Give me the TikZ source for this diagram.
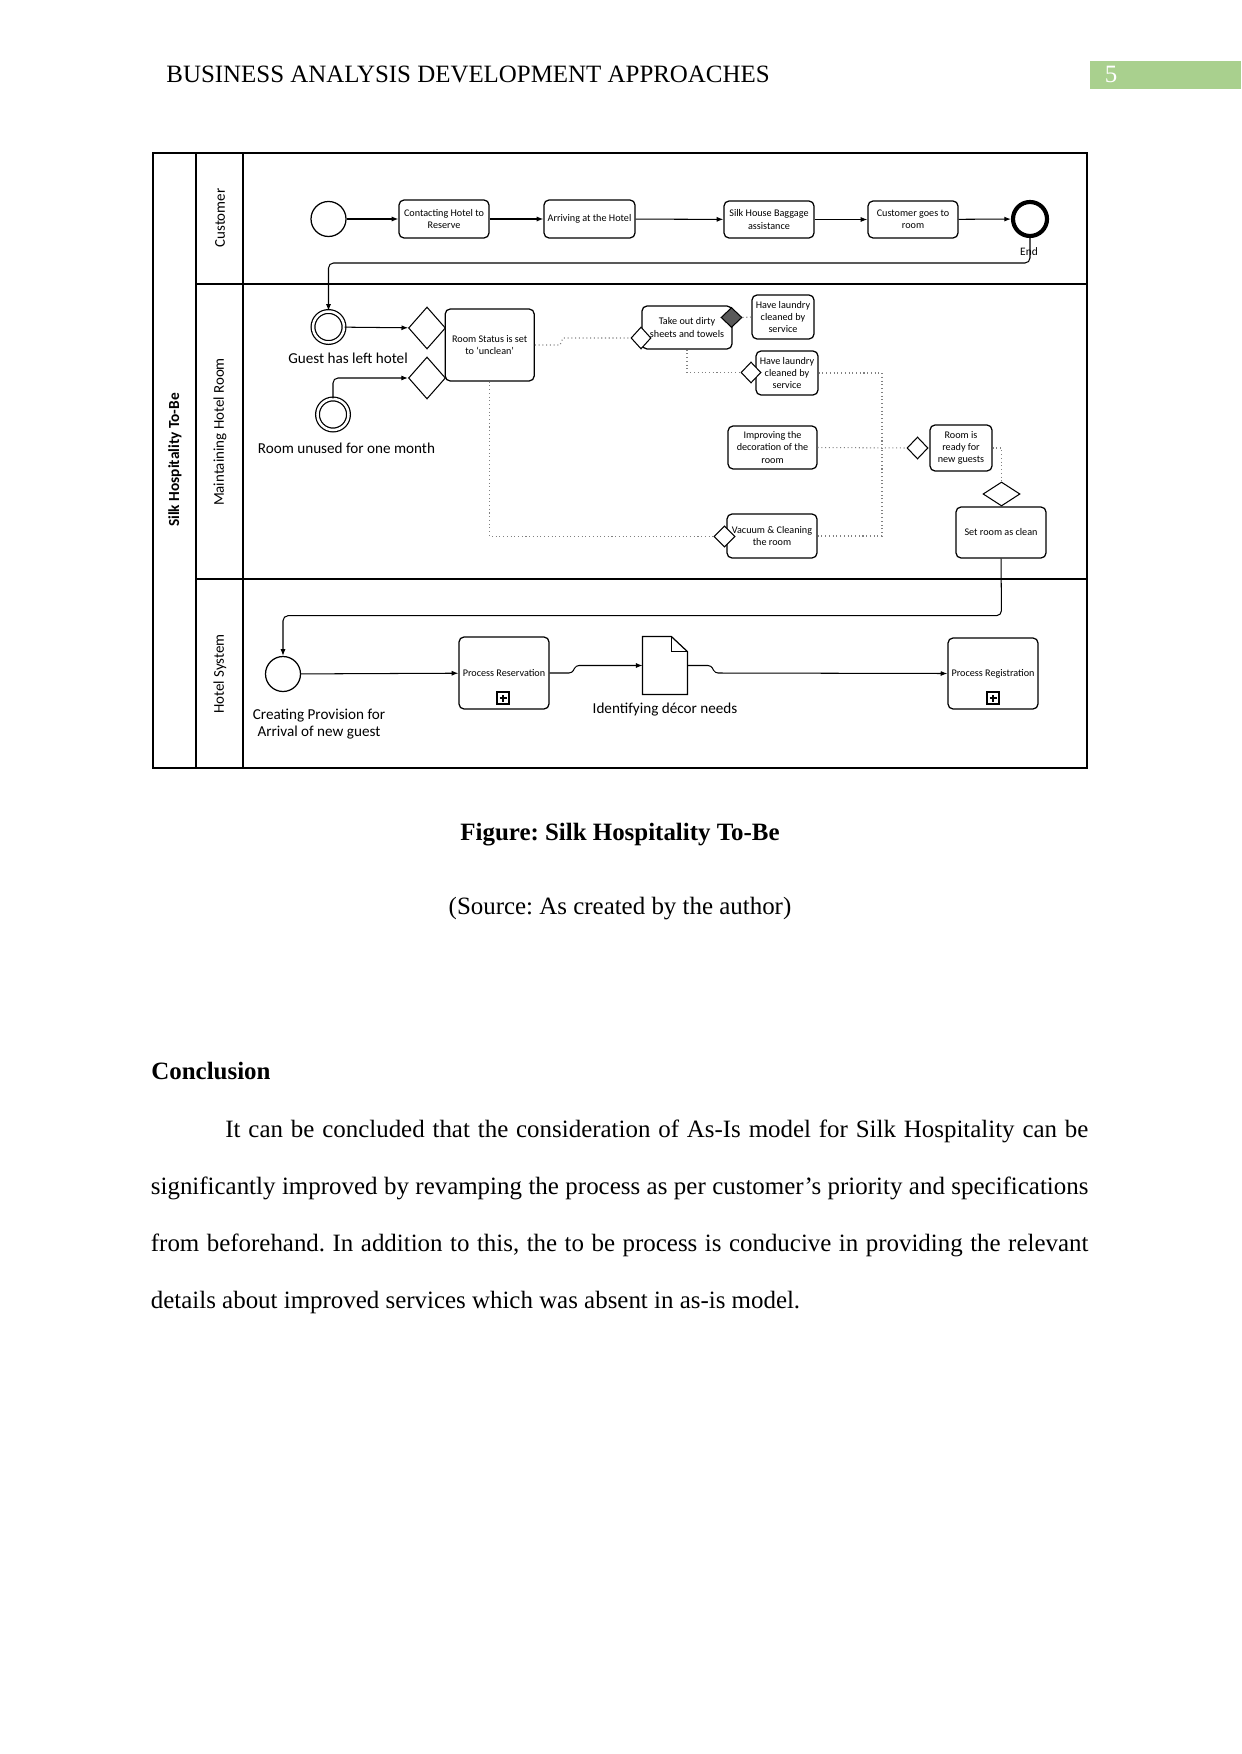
\documentclass[tikz,border=0pt]{standalone}
\usepackage{fontspec}
\setmainfont{Liberation Serif}
\newfontfamily\diagfont{Carlito}
\usetikzlibrary{shapes.geometric,arrows.meta}
\newlength{\unitpx}
\setlength{\unitpx}{0.016922cm}
\definecolor{pagegreen}{HTML}{A9D08E}
\frenchspacing
\begin{document}
\begin{tikzpicture}[x=0.016922cm, y=-0.016922cm,
  task/.style={draw, rounded corners=5\unitpx, line width=0.6pt, align=center, inner sep=0pt, font=\diagfont\fontsize{4.9}{5.8}\selectfont},
  gate/.style={draw, diamond, fill=white, inner sep=0pt, line width=0.5pt},
  evt/.style={draw, circle, fill=white, inner sep=0pt, minimum size=35\unitpx, line width=0.6pt},
  flow/.style={-{Latex[length=3.2pt,width=2.4pt]}, line width=0.5pt, rounded corners=5\unitpx},
  msg/.style={draw=gray, line width=0.5pt, dash pattern=on 0.5pt off 1.3pt},
  lbl/.style={font=\diagfont\fontsize{7.3}{8.2}\selectfont, align=center, inner sep=0pt},
  lane/.style={rotate=90, inner sep=0pt, font=\diagfont\fontsize{7.2}{8}\selectfont},
  plusmark/.style={draw, minimum size=12\unitpx, inner sep=0pt, line width=0.5pt,
    path picture={\draw[line width=0.9pt] ([xshift=-3.5\unitpx]path picture bounding box.center) -- ([xshift=3.5\unitpx]path picture bounding box.center) ([yshift=-3.5\unitpx]path picture bounding box.center) -- ([yshift=3.5\unitpx]path picture bounding box.center);}},
  body/.style={inner sep=0pt, anchor=base west, font=\fontsize{12}{14}\selectfont}]
\useasboundingbox (0,0) rectangle (1241,1754);
\node[body] (hdr) at (166,82.7) {BUSINESS ANALYSIS DEVELOPMENT APPROACHES};
\fill[pagegreen] (1090,61) rectangle (1241,89);
\node[body, anchor=base, text=white] (pgno) at (1111,82.7) {5};
\draw[line width=0.6pt] (153,153) rectangle (1087,768);
\draw[line width=0.6pt] (196,153) -- (196,768);
\draw[line width=0.6pt] (243,153) -- (243,768);
\draw[line width=0.6pt] (196,284) -- (1087,284);
\draw[line width=1pt] (196,579) -- (1087,579);
\node[lane, font=\diagfont\bfseries\fontsize{7.4}{8}\selectfont] (pool) at (175,460) {Silk Hospitality To-Be};
\node[lane] (lcust) at (220,218) {Customer};
\node[lane] (lroom) at (220,432) {Maintaining Hotel Room};
\node[lane] (lsys) at (220,674) {Hotel System};
\node[evt] (cstart) at (328.5,219) {};
\node[task, minimum width=90\unitpx, minimum height=38\unitpx] (contact) at (444,219) {Contacting Hotel to\\Reserve};
\node[task, minimum width=91\unitpx, minimum height=38\unitpx] (arrive) at (589.5,219) {Arriving at the Hotel};
\node[task, minimum width=90\unitpx, minimum height=37\unitpx] (baggage) at (769,219.5) {Silk House Baggage\\assistance};
\node[task, minimum width=90\unitpx, minimum height=37\unitpx] (goroom) at (913,219.5) {Customer goes to\\room};
\node[evt, line width=2pt, minimum size=34\unitpx] (cend) at (1030,219) {};
\node[lbl, font=\diagfont\fontsize{5.5}{6}\selectfont] (endlbl) at (1029,252) {End};
\draw[flow](cstart) -- (contact);
\draw[flow](contact) -- (arrive);
\draw[flow](arrive) -- (baggage);
\draw[flow](baggage) -- (goroom);
\draw[flow](goroom) -- (cend);
\node[evt, double, double distance=2.5\unitpx, minimum size=31\unitpx] (gstart) at (328.5,327) {};
\node[lbl] (gstartlbl) at (348,358) {Guest has left hotel};
\node[evt, double, double distance=2.5\unitpx, minimum size=31\unitpx] (ustart) at (333,414.5) {};
\node[lbl] (ustartlbl) at (346.5,448) {Room unused for one month};
\draw[flow](cend.south) -- (1030,263) -| (gstart.north);
\node[task, minimum width=89\unitpx, minimum height=72\unitpx] (rstat) at (489.7,345) {Room Status is set\\to ‘unclean’};
\node[gate, minimum width=37\unitpx, minimum height=42\unitpx] (gd1) at (427,328) {};
\node[gate, minimum width=37\unitpx, minimum height=42\unitpx] (gd2) at (427,378) {};
\draw[flow](gstart) -- (gd1);
\draw[flow](ustart.north) |- (gd2.west);
\node[task, minimum width=90\unitpx, minimum height=43\unitpx] (takeout) at (687,327.5) {Take out dirty\\sheets and towels};
\node[gate, minimum width=20\unitpx, minimum height=22\unitpx] (tdia) at (641,338) {};
\node[gate, fill=black!65, minimum width=21\unitpx, minimum height=20\unitpx] (tdark) at (731.5,317.5) {};
\node[task, minimum width=62\unitpx, minimum height=44\unitpx] (laundry1) at (783,317) {Have laundry\\cleaned by\\service};
\node[task, minimum width=62\unitpx, minimum height=44\unitpx] (laundry2) at (787,373) {Have laundry\\cleaned by\\service};
\node[gate, minimum width=20\unitpx, minimum height=21\unitpx] (l2dia) at (751,372.5) {};
\node[task, minimum width=89\unitpx, minimum height=43\unitpx] (improve) at (772.5,447.5) {Improving the\\decoration of the\\room};
\node[task, minimum width=90\unitpx, minimum height=44\unitpx] (vacuum) at (772,536) {Vacuum \& Cleaning\\the room};
\node[gate, minimum width=21\unitpx, minimum height=21\unitpx] (vdia) at (724.5,536.5) {};
\node[gate, minimum width=21\unitpx, minimum height=22\unitpx] (gready) at (917.5,448) {};
\node[task, minimum width=62\unitpx, minimum height=46\unitpx] (ready) at (961,448) {Room is\\ready for\\new guests};
\node[task, minimum width=90\unitpx, minimum height=51\unitpx] (setclean) at (1001,532.5) {Set room as clean};
\node[gate, minimum width=37\unitpx, minimum height=24\unitpx] (cdia) at (1001.5,494) {};
\coordinate (jn) at (882,448);
\draw[msg](rstat.east) -- (560,345) -- (563,338) -- (tdia.west);
\draw[msg](rstat.south) |- (vdia.west);
\draw[msg](tdark.east) -- (laundry1.west);
\draw[msg](takeout.south) |- (l2dia.west);
\draw[msg](laundry2.east) -| (jn);
\draw[msg](vacuum.east) -| (jn);
\draw[msg](improve.east) -- (gready.west);
\draw[msg](ready.east) -| (cdia.north);
\node[evt] (hstart) at (283,674) {};
\node[lbl] (hstartlbl) at (319,724.5) {Creating Provision for\\Arrival of new guest};
\node[task, minimum width=90\unitpx, minimum height=72\unitpx] (preserv) at (504,673) {Process Reservation};
\node[plusmark] (presplus) at (503,698) {};
\node[minimum width=44\unitpx, minimum height=57\unitpx, inner sep=0pt] (doc) at (665,665.5) {};
\draw[line width=0.6pt] (doc.north west) -- ([xshift=-16\unitpx]doc.north east) -- ([yshift=-15\unitpx]doc.north east) -- (doc.south east) -- (doc.south west) -- cycle;
\draw[line width=0.5pt] ([xshift=-16\unitpx]doc.north east) |- ([yshift=-15\unitpx]doc.north east);
\node[lbl] (doclbl) at (665,710) {Identifying décor needs};
\node[task, minimum width=90\unitpx, minimum height=71\unitpx] (preg) at (993,673.5) {Process Registration};
\node[plusmark] (pregplus) at (993,698) {};
\draw[flow](setclean.south) -- (1001.5,615.7) -| (hstart.north);
\draw[flow](hstart) -- (preserv);
\draw[flow, rounded corners=3\unitpx](preserv.east) -- (572,673) -- (576,665.5) -- (doc.west);
\draw[flow, rounded corners=3\unitpx](doc.east) -- (711,665.5) -- (715,673) -- (preg.west);
\node[body, anchor=base, font=\bfseries\fontsize{12}{14}\selectfont] (cap) at (620,840) {Figure: Silk Hospitality To-Be};
\node[body, anchor=base] (src) at (620,914) {(Source: As created by the author)};
\node[body, font=\bfseries\fontsize{12}{14}\selectfont] (concl) at (151,1079) {Conclusion};
\node[body] (para1) at (225,1137) {\makebox[863\unitpx][s]{It can be concluded that the consideration of As-Is model for Silk Hospitality can be}};
\node[body] (para2) at (150.5,1194) {\makebox[937.5\unitpx][s]{significantly improved by revamping the process as per customer’s priority and specifications}};
\node[body] (para3) at (150.5,1251) {\makebox[937.5\unitpx][s]{from beforehand. In addition to this, the to be process is conducive in providing the relevant}};
\node[body] (para4) at (150.5,1308) {details about improved services which was absent in as-is model.};
\end{tikzpicture}
\end{document}
